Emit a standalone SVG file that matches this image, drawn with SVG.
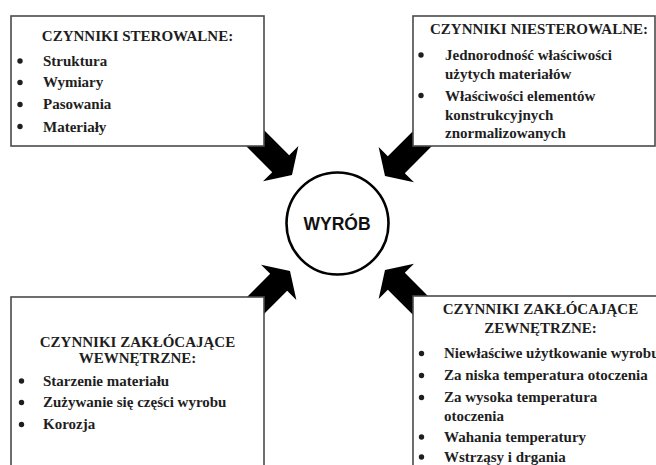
<svg xmlns="http://www.w3.org/2000/svg" width="656" height="465" viewBox="0 0 656 465">
  <style>
    .box { fill: #ffffff; stroke: #4a4a4a; stroke-width: 1.6; }
    .t { font-family: "Liberation Serif", "Times New Roman", serif; font-weight: bold; font-size: 15px; fill: #1e1e1e; }
    .c { text-anchor: middle; }
    .dot { fill: #1e1e1e; }
    .arrow { fill: #000000; }
    .hub { fill: #ffffff; stroke: #000000; stroke-width: 2.6; }
    .hubtxt { font-family: "Liberation Sans", Arial, sans-serif; font-weight: bold; font-size: 17.5px; fill: #111111; text-anchor: middle; }
  </style>
  <defs>
    <!-- block arrow, tip at origin, pointing along +x -->
    <path id="blockArrow" d="M0,0 L-16,-25 L-16,-12 L-90,-12 L-90,12 L-16,12 L-16,25 Z"/>
  </defs>
  <rect width="656" height="465" fill="#ffffff"/>

  <!-- arrows converging on the product -->
  <g id="connectors">
    <use href="#blockArrow" class="arrow" transform="translate(292,175) rotate(45)"/>
    <use href="#blockArrow" class="arrow" transform="translate(385,176) rotate(135)"/>
    <use href="#blockArrow" class="arrow" transform="translate(290,271) rotate(-45)"/>
    <use href="#blockArrow" class="arrow" transform="translate(385,270) rotate(-135)"/>
  </g>

  <g id="box-sterowalne">
    <rect class="box" x="11" y="16" width="253" height="130"/>
    <text class="t c" x="137.5" y="40.5">CZYNNIKI STEROWALNE:</text>
    <circle class="dot" cx="20" cy="61" r="2.7"/>
    <circle class="dot" cx="20" cy="82.5" r="2.7"/>
    <circle class="dot" cx="20" cy="104.5" r="2.7"/>
    <circle class="dot" cx="20" cy="126.5" r="2.7"/>
    <text class="t" x="43" y="65.5">Struktura</text>
    <text class="t" x="43" y="87">Wymiary</text>
    <text class="t" x="43" y="109">Pasowania</text>
    <text class="t" x="43" y="131.5">Materiały</text>
  </g>

  <g id="box-niesterowalne">
    <rect class="box" x="413" y="16" width="242" height="130"/>
    <text class="t c" x="539" y="33.5">CZYNNIKI NIESTEROWALNE:</text>
    <circle class="dot" cx="421" cy="55" r="2.7"/>
    <circle class="dot" cx="421" cy="95.5" r="2.7"/>
    <text class="t" x="445" y="60">Jednorodność właściwości</text>
    <text class="t" x="445" y="79">użytych materiałów</text>
    <text class="t" x="445" y="100.5">Właściwości elementów</text>
    <text class="t" x="445" y="120">konstrukcyjnych</text>
    <text class="t" x="445" y="137.5">znormalizowanych</text>
  </g>

  <g id="box-wewnetrzne">
    <rect class="box" x="11" y="297" width="253" height="190"/>
    <text class="t c" x="137.5" y="347">CZYNNIKI ZAKŁÓCAJĄCE</text>
    <text class="t c" x="137.5" y="363">WEWNĘTRZNE:</text>
    <circle class="dot" cx="21.5" cy="381" r="2.7"/>
    <circle class="dot" cx="21.5" cy="402.5" r="2.7"/>
    <circle class="dot" cx="21.5" cy="424.5" r="2.7"/>
    <text class="t" x="43" y="385.5">Starzenie materiału</text>
    <text class="t" x="43" y="407">Zużywanie się części wyrobu</text>
    <text class="t" x="43" y="429">Korozja</text>
  </g>

  <g id="box-zewnetrzne">
    <rect class="box" x="413" y="296" width="290" height="190"/>
    <text class="t c" x="540.5" y="313.5">CZYNNIKI ZAKŁÓCAJĄCE</text>
    <text class="t c" x="540.5" y="333">ZEWNĘTRZNE:</text>
    <circle class="dot" cx="421.5" cy="353.5" r="2.7"/>
    <circle class="dot" cx="421.5" cy="375.5" r="2.7"/>
    <circle class="dot" cx="421.5" cy="397.5" r="2.7"/>
    <circle class="dot" cx="421.5" cy="437" r="2.7"/>
    <circle class="dot" cx="421.5" cy="457" r="2.7"/>
    <text class="t" x="444" y="358">Niewłaściwe użytkowanie wyrobu</text>
    <text class="t" x="444" y="380">Za niska temperatura otoczenia</text>
    <text class="t" x="444" y="402">Za wysoka temperatura</text>
    <text class="t" x="444" y="421">otoczenia</text>
    <text class="t" x="444" y="441.5">Wahania temperatury</text>
    <text class="t" x="444" y="461.5">Wstrząsy i drgania</text>
  </g>

  <g id="product">
    <circle class="hub" cx="337.5" cy="223.5" r="51"/>
    <text class="hubtxt" x="337" y="230">WYRÓB</text>
  </g>
</svg>
